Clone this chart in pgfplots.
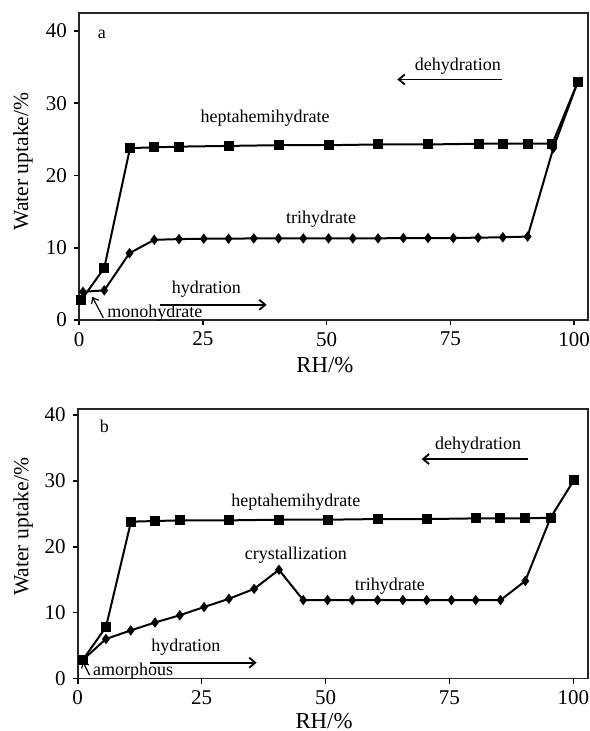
\documentclass[border=0pt]{standalone}
\usepackage{fontspec}
\setmainfont{Liberation Serif}
\usepackage{pgfplots}
\pgfplotsset{compat=1.18}
\usetikzlibrary{arrows.meta}

\pgfplotsset{
  panel/.style={
    scale only axis,
    axis line style={line width=0.9pt, black!85},
    xmin=0, ymin=0,
    xtick={0,25,50,75,100}, ytick={0,10,20,30,40},
    tick align=outside, xtick pos=bottom, ytick pos=left,
    major tick length=2.5pt,
    tick style={line width=0.8pt, black},
    ticklabel style={font=\fontsize{10.5}{12}\selectfont},
    /pgf/number format/assume math mode=true,
    xlabel style={font=\fontsize{11.4}{13}\selectfont},
    ylabel style={font=\fontsize{10.8}{13}\selectfont},
    xlabel={RH/\%}, ylabel={Water uptake/\%},
    clip=false,
  },
}
\tikzset{
  sq/.style={black, line width=1pt, mark=square*, mark size=2pt, mark options={solid}},
  dm/.style={black, line width=1pt, mark=diamond*, mark size=1.8pt, mark options={solid}},
  ann/.style={font=\fontsize{9}{10}\selectfont, inner sep=0pt},
  arr/.style={line width=0.9pt, -{Straight Barb[length=3pt,width=5pt]}},
}

\begin{document}
\begin{tikzpicture}
\path[use as bounding box] (0,0) rectangle (294.5pt,-365.5pt);

% ---------- panel a ----------
\begin{axis}[panel,
  at={(39.5pt,-6.5pt)}, anchor=north west,
  width=254.5pt, height=153.5pt,
  xmax=102.8, ymax=42.5,
  xlabel style={at={(axis description cs:0.483,0)}, anchor=center, yshift=-22.5pt},
  ylabel style={at={(axis description cs:-0.110,0.516)}, anchor=center},
]
% dehydration branch (heptahemihydrate)
\addplot[sq] coordinates {
 (0.5,2.8) (5.1,7.2) (10.3,23.8) (15.2,23.9) (20.2,24.0) (30.2,24.1) (40.3,24.2)
 (50.5,24.2) (60.4,24.3) (70.5,24.3) (80.7,24.4) (85.6,24.4) (90.6,24.4) (95.6,24.4) (100.7,32.9)
};
% hydration branch (trihydrate)
\addplot[dm] coordinates {
 (0.8,3.9) (5.1,4.1) (10.2,9.25) (15.2,11.1) (20.2,11.2) (25.2,11.25) (30.2,11.25) (35.3,11.3)
 (40.3,11.3) (45.3,11.3) (50.4,11.3) (55.3,11.3) (60.4,11.3) (65.5,11.35) (70.5,11.35)
 (75.6,11.35) (80.6,11.4) (85.6,11.45) (90.6,11.55) (95.8,23.8)
};
\addplot[black, line width=1pt] coordinates {(95.8,23.8) (100.7,32.9)};

\node[ann] at (axis cs:4.6,39.6) {a};
\node[ann] at (axis cs:37.6,28.0) {heptahemihydrate};
\node[ann] at (axis cs:48.9,13.9) {trihydrate};
\node[ann] at (axis cs:76.5,35.1) {dehydration};
\draw[arr] (axis cs:85.5,33.3) -- (axis cs:64.3,33.3);
\node[ann] at (axis cs:25.7,4.2) {hydration};
\draw[arr] (axis cs:16.4,2.1) -- (axis cs:37.9,2.1);
\node[ann] at (axis cs:15.3,1.0) {monohydrate};
\draw[line width=0.6pt, -{Straight Barb[length=2.5pt,width=4pt]}] (axis cs:4.9,0.3) -- (axis cs:2.7,3.2);
\end{axis}

% ---------- panel b ----------
\begin{axis}[panel,
  at={(38.85pt,-204.5pt)}, anchor=north west,
  width=255pt, height=134.75pt,
  xmax=102.9, ymax=40.9,
  xlabel style={at={(axis description cs:0.483,0)}, anchor=center, yshift=-21.3pt},
  ylabel style={at={(axis description cs:-0.107,0.5625)}, anchor=center},
]
\addplot[sq] coordinates {
 (1.0,2.8) (5.7,7.8) (10.75,23.8) (15.6,23.9) (20.6,24.0) (30.5,24.0) (40.6,24.1)
 (50.4,24.1) (60.5,24.2) (70.4,24.2) (80.3,24.3) (85.3,24.3) (90.3,24.3) (95.4,24.4) (100.2,30.2)
};
\addplot[dm] coordinates {
 (1.0,2.8) (5.7,6.0) (10.7,7.3) (15.6,8.5) (20.6,9.6) (25.5,10.85) (30.5,12.1) (35.6,13.6)
 (40.6,16.5) (45.5,11.9) (50.4,11.9) (55.4,11.9) (60.5,11.9) (65.6,11.9) (70.4,11.9)
 (75.4,11.9) (80.3,11.9) (85.3,11.9) (90.3,14.8) (95.4,24.4)
};

\node[ann] at (axis cs:5.4,38.2) {b};
\node[ann] at (axis cs:44.0,26.8) {heptahemihydrate};
\node[ann] at (axis cs:44.0,18.7) {crystallization};
\node[ann] at (axis cs:63.0,14.0) {trihydrate};
\node[ann] at (axis cs:80.8,35.4) {dehydration};
\draw[arr] (axis cs:90.9,33.3) -- (axis cs:69.4,33.3);
\node[ann] at (axis cs:21.8,4.8) {hydration};
\draw[arr] (axis cs:14.6,2.4) -- (axis cs:36.1,2.4);
\node[ann] at (axis cs:11.2,1.1) {amorphous};
\draw[line width=0.6pt, -{Straight Barb[length=2.5pt,width=4pt]}] (axis cs:2.4,0.5) -- (axis cs:1.0,2.6);
\end{axis}
\end{tikzpicture}
\end{document}
